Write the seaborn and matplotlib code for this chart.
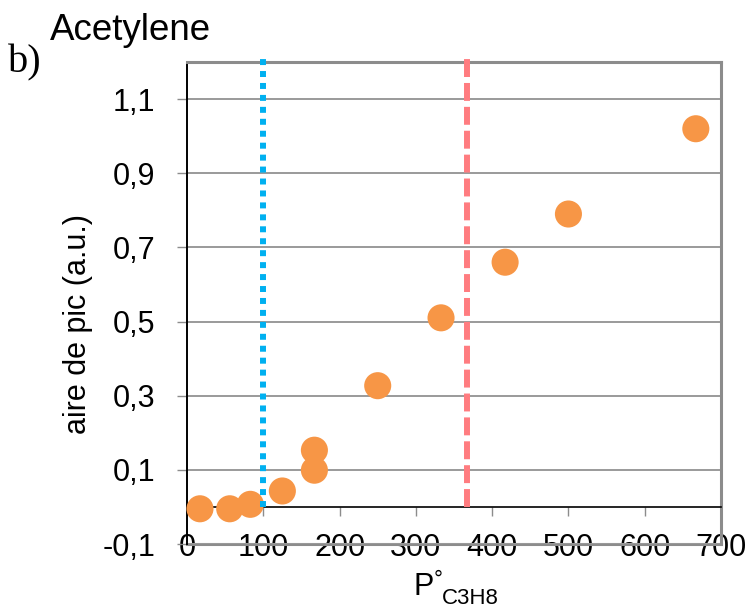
import matplotlib
matplotlib.use("Agg")
import matplotlib.pyplot as plt
import seaborn as sns
import pandas as pd

# data
pressure = [17, 56, 83, 125, 167, 167, 250, 333, 417, 500, 667]
peak_area = [-0.005, -0.005, 0.007, 0.043, 0.099, 0.153, 0.327, 0.51, 0.66, 0.79, 1.02]
limit_blue = 100
limit_red = 367
x_ticks = [0, 100, 200, 300, 400, 500, 600, 700]
y_ticks = [-0.1, 0.1, 0.3, 0.5, 0.7, 0.9, 1.1]
y_tick_labels = ['-0,1', '0,1', '0,3', '0,5', '0,7', '0,9', '1,1']

df = pd.DataFrame({'P': pressure, 'aire': peak_area})

sns.set_style("white")
plt.rcParams['font.family'] = ['Liberation Sans', 'DejaVu Sans']
plt.rcParams['text.color'] = 'black'
plt.rcParams['axes.labelcolor'] = 'black'

fig = plt.figure(figsize=(7.5, 6.08), dpi=100)
ax = fig.add_axes([187 / 750, 1 - 544 / 608, 534 / 750, 482 / 608])

sns.scatterplot(data=df, x='P', y='aire', ax=ax, color='#F79646', s=380,
                edgecolor='none', zorder=3, clip_on=False)

# vertical limit lines
ax.plot([limit_blue, limit_blue], [0, 1.22], color='#00B0F0', lw=4.3,
        linestyle=(0, (1, 1)), solid_capstyle='butt', dash_capstyle='butt',
        zorder=4, clip_on=False)
ax.plot([limit_red, limit_red], [0, 1.215], color='#FF7C80', lw=4.3,
        linestyle=(0, (3, 1)), dash_capstyle='butt', zorder=4, clip_on=False)

ax.set_xlim(0, 700)
ax.set_ylim(-0.1, 1.2)
ax.set_yticks(y_ticks)
ax.set_yticklabels(y_tick_labels)
ax.set_xticks(x_ticks)
ax.set_xticklabels([])
ax.grid(axis='y', color='#9a9a9a', lw=1.4)
ax.grid(axis='x', visible=False)
ax.set_axisbelow(True)

# x axis line sits at y = 0, labels stay at the bottom
ax.spines['bottom'].set_position(('data', 0))
ax.spines['bottom'].set_color('black')
ax.spines['bottom'].set_linewidth(1.2)
ax.spines['left'].set_color('black')
ax.spines['left'].set_linewidth(1.4)
for side in ['top', 'right']:
    ax.spines[side].set_color('#8c8c8c')
    ax.spines[side].set_linewidth(2.2)

ax.tick_params(axis='x', direction='out', length=6.5, width=1, color='#8c8c8c',
               bottom=True)
ax.tick_params(axis='y', direction='out', length=7, width=1, color='#8c8c8c',
               labelcolor='black', left=True, labelsize=22, pad=16)

sec = ax.secondary_xaxis('bottom')
sec.set_xticks(x_ticks)
sec.set_xticklabels([str(t) for t in x_ticks])
sec.tick_params(length=0, labelsize=22, labelcolor='black', pad=-8)
sec.spines['bottom'].set_color('#8c8c8c')
sec.spines['bottom'].set_linewidth(2.2)

ax.set_xlabel('')
ax.set_ylabel('aire de pic (a.u.)', fontsize=22)
ax.yaxis.set_label_coords(-0.176, 0.456)

# x label: P° with C3H8 subscript
fig.text(413 / 750, 1 - 595 / 608, 'P', fontsize=22, ha='left', va='baseline')
fig.text(434 / 750, 1 - 586 / 608, '°', fontsize=16, ha='left', va='baseline')
fig.text(442 / 750, 1 - 604 / 608, 'C3H8', fontsize=16, ha='left', va='baseline')

fig.text(50 / 750, 1 - 40 / 608, 'Acetylene', fontsize=26.5, ha='left', va='baseline')
fig.text(8 / 750, 1 - 72 / 608, 'b)', fontsize=29, ha='left', va='baseline',
         family=['Liberation Serif', 'DejaVu Serif'])

fig.savefig('out.png', dpi=100)
